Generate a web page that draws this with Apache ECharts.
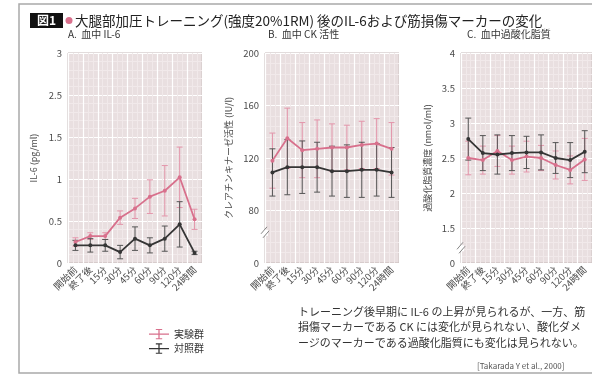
<!DOCTYPE html>
<html>
<head>
<meta charset="utf-8">
<script src="https://cdn.jsdelivr.net/npm/echarts@6/dist/echarts.min.js"></script>
<style>
html,body{margin:0;padding:0;background:#fff;}
#chart{width:592px;height:380px;}
</style>
</head>
<body>
<div id="chart"></div>
<script>
// Time points after the training bout
const categories = ['開始前', '終了後', '15分', '30分', '45分', '60分', '90分', '120分', '24時間'];

// A. IL-6 (pg/ml)
const il6Exp = [0.25, 0.32, 0.32, 0.54, 0.65, 0.79, 0.86, 1.02, 0.52];
const il6ExpErr = [0.05, 0.04, 0.04, 0.08, 0.12, 0.20, 0.30, 0.36, 0.12];
const il6Ctl = [0.21, 0.21, 0.21, 0.13, 0.29, 0.21, 0.29, 0.46, 0.12];
const il6CtlErr = [0.06, 0.08, 0.07, 0.08, 0.14, 0.09, 0.15, 0.27, 0.02];
const il6TickLabels = ['0', '0.5', '1', '1.5', '2.5', '3'];

// B. CK activity (IU/l); the bottom of the axis is a broken "0"
const ckExp = [118, 135, 126, 127, 128, 128, 130, 131, 127];
const ckExpErr = [21, 23, 21, 22, 18, 17, 18, 19, 20];
const ckCtl = [109, 113, 113, 113, 110, 110, 111, 111, 109];
const ckCtlErr = [18, 21, 20, 19, 19, 20, 21, 20, 19];
const ckTickLabels = ['0', '80', '120', '160', '200'];

// C. Lipid peroxide (nmol/ml); the bottom of the axis is a broken "0"
const lpExp = [2.50, 2.47, 2.60, 2.47, 2.52, 2.50, 2.40, 2.33, 2.48];
const lpExpErr = [0.24, 0.20, 0.22, 0.20, 0.22, 0.18, 0.20, 0.20, 0.30];
const lpCtl = [2.77, 2.57, 2.55, 2.57, 2.58, 2.58, 2.50, 2.47, 2.59];
const lpCtlErr = [0.30, 0.25, 0.28, 0.25, 0.23, 0.25, 0.22, 0.25, 0.30];
const lpTickLabels = ['0', '1.5', '2', '2.5', '3', '3.5', '4'];

const groupNames = ['実験群', '対照群'];

const FONT = '"Noto Sans CJK JP", "Noto Sans", sans-serif';
const RED = '#d8708c';
const RED_ERR = '#e395aa';
const BLACK = '#353535';
const BLACK_ERR = '#555555';

const panels = [
  { left: 68, name: 'IL-6 (pg/ml)', nameGap: 30, min: 0, max: 2.5, interval: 0.5, ticks: il6TickLabels,
    exp: il6Exp, expErr: il6ExpErr, ctl: il6Ctl, ctlErr: il6CtlErr },
  { left: 265, name: 'クレアチンキナーゼ活性 (IU/l)', nameGap: 32, min: 40, max: 200, interval: 40, ticks: ckTickLabels,
    exp: ckExp, expErr: ckExpErr, ctl: ckCtl, ctlErr: ckCtlErr, breakAt: 63 },
  { left: 461, name: '過酸化脂質濃度 (nmol/ml)', nameGap: 29, min: 1, max: 4, interval: 0.5, ticks: lpTickLabels,
    exp: lpExp, expErr: lpExpErr, ctl: lpCtl, ctlErr: lpCtlErr, breakAt: 1.21 }
];

const TOP = 53, HEIGHT = 210, WIDTH = 134;

function errorBars(color) {
  return function (params, api) {
    const x = api.value(0), v = api.value(1), e = api.value(2);
    const hi = api.coord([x, v + e]);
    const lo = api.coord([x, v - e]);
    const w = 3;
    const st = { stroke: color, lineWidth: 1 };
    return {
      type: 'group',
      children: [
        { type: 'line', shape: { x1: hi[0], y1: hi[1], x2: lo[0], y2: lo[1] }, style: st },
        { type: 'line', shape: { x1: hi[0] - w, y1: hi[1], x2: hi[0] + w, y2: hi[1] }, style: st },
        { type: 'line', shape: { x1: lo[0] - w, y1: lo[1], x2: lo[0] + w, y2: lo[1] }, style: st }
      ]
    };
  };
}

const grid = [], xAxis = [], yAxis = [], series = [];
panels.forEach((p, i) => {
  grid.push({
    left: p.left, top: TOP, width: WIDTH, height: HEIGHT,
    show: true, backgroundColor: '#e9dfe0', borderColor: '#c4b8b9', borderWidth: 1
  });
  // category axis carrying the data
  xAxis.push({
    type: 'category', gridIndex: i, data: categories, boundaryGap: true,
    axisLine: { show: false }, axisTick: { show: false }, splitLine: { show: false },
    axisLabel: { rotate: 45, fontSize: 9.5, color: '#4a4a4a', fontFamily: FONT, margin: 5, interval: 0 }
  });
  // paper-style vertical ruling
  xAxis.push({
    type: 'value', gridIndex: i, min: 0, max: 9, interval: 1, position: 'top',
    axisLabel: { show: false }, axisLine: { show: false }, axisTick: { show: false },
    splitLine: { show: true, lineStyle: { color: '#ffffff', width: 1.2 } },
    minorTick: { show: false, splitNumber: 3 },
    minorSplitLine: { show: true, lineStyle: { color: '#f1e9ea', width: 1 } }
  });
  yAxis.push({
    type: 'value', gridIndex: i, min: p.min, max: p.max, interval: p.interval,
    name: p.name, nameLocation: 'middle', nameGap: p.nameGap,
    nameTextStyle: { fontSize: 9, color: '#4a4a4a', fontFamily: FONT },
    axisLine: { show: false }, axisTick: { show: false },
    axisLabel: {
      fontSize: 9.5, color: '#4a4a4a', fontFamily: FONT, margin: 6,
      formatter: (val) => p.ticks[Math.round((val - p.min) / p.interval)]
    },
    splitLine: { show: true, lineStyle: { color: '#ffffff', width: 1.2 } },
    minorTick: { show: false, splitNumber: 5 },
    minorSplitLine: { show: true, lineStyle: { color: '#f1e9ea', width: 1 } }
  });
  const xi = i * 2;
  const mk = (vals, errs) => vals.map((v, k) => [k, v, errs[k]]);
  series.push({
    name: groupNames[0], type: 'custom', xAxisIndex: xi, yAxisIndex: i,
    renderItem: errorBars(RED_ERR), data: mk(p.exp, p.expErr), encode: { x: 0, y: 1 }, z: 2
  });
  series.push({
    name: groupNames[1], type: 'custom', xAxisIndex: xi, yAxisIndex: i,
    renderItem: errorBars(BLACK_ERR), data: mk(p.ctl, p.ctlErr), encode: { x: 0, y: 1 }, z: 2
  });
  series.push({
    name: groupNames[0], type: 'line', xAxisIndex: xi, yAxisIndex: i, data: p.exp,
    color: RED, lineStyle: { color: RED, width: 1.8 }, symbol: 'circle', symbolSize: 4,
    itemStyle: { color: RED }, z: 3, animation: false
  });
  series.push({
    name: groupNames[1], type: 'line', xAxisIndex: xi, yAxisIndex: i, data: p.ctl,
    color: BLACK, lineStyle: { color: BLACK, width: 1.8 }, symbol: 'circle', symbolSize: 4,
    itemStyle: { color: BLACK }, z: 4, animation: false
  });
});

const legendIcon = 'path://M0,5h22v1.4H0z M10.3,0h1.4v11.4h-1.4z M7.5,0h7v1.2h-7z M7.5,10.2h7v1.2h-7z';

const option = {
  animation: false,
  backgroundColor: '#ffffff',
  textStyle: { fontFamily: FONT },
  grid, xAxis, yAxis, series,
  legend: {
    orient: 'vertical', left: 144, top: 324, itemGap: 4, itemWidth: 20, itemHeight: 11,
    data: [
      { name: groupNames[0], icon: legendIcon, itemStyle: { color: RED } },
      { name: groupNames[1], icon: legendIcon, itemStyle: { color: BLACK } }
    ],
    textStyle: { fontSize: 10, color: '#333', fontFamily: FONT },
    selectedMode: false
  },
  graphic: [
    // outer frame
    { type: 'rect', shape: { x: 19, y: 4, width: 610, height: 369 },
      style: { fill: 'none', stroke: '#a9a9a9', lineWidth: 1.5 }, silent: true, z: -1 },
    // figure number badge
    { type: 'rect', shape: { x: 30, y: 13, width: 33, height: 15 }, style: { fill: '#111' } },
    { type: 'text', x: 46.5, y: 20.5, style: { text: '図1', fill: '#fff', fontSize: 12, fontWeight: 'bold',
      fontFamily: FONT, align: 'center', verticalAlign: 'middle' } },
    { type: 'circle', shape: { cx: 69, cy: 20.5, r: 3.5 }, style: { fill: '#d9708c' } },
    { type: 'text', x: 75, y: 20.5, style: {
      text: '大腿部加圧トレーニング(強度20%1RM) 後のIL-6および筋損傷マーカーの変化',
      fill: '#222', fontSize: 13.5, fontFamily: FONT, verticalAlign: 'middle' } },
    // panel titles
    { type: 'text', x: 68, y: 34, style: { text: 'A.  血中 IL-6', fill: '#333', fontSize: 10, fontFamily: FONT, verticalAlign: 'middle' } },
    { type: 'text', x: 268, y: 34, style: { text: 'B.  血中 CK 活性', fill: '#333', fontSize: 10, fontFamily: FONT, verticalAlign: 'middle' } },
    { type: 'text', x: 467, y: 34, style: { text: 'C.  血中過酸化脂質', fill: '#333', fontSize: 10, fontFamily: FONT, verticalAlign: 'middle' } },
    // summary
    { type: 'text', x: 298, y: 304, style: {
      text: 'トレーニング後早期に IL-6 の上昇が見られるが、一方、筋\n損傷マーカーである CK には変化が見られない、酸化ダメ\nージのマーカーである過酸化脂質にも変化は見られない。',
      fill: '#333', fontSize: 11, lineHeight: 15.5, fontFamily: FONT } },
    { type: 'text', x: 477, y: 366, style: { text: '[Takarada Y et al., 2000]', fill: '#555', fontSize: 8,
      fontFamily: FONT, verticalAlign: 'middle' } }
  ]
};

const chart = echarts.init(document.getElementById('chart'), null, { renderer: 'canvas' });
chart.setOption(option);

// axis break marks on the broken axes
const breaks = [];
panels.forEach((p, i) => {
  if (p.breakAt === undefined) return;
  const y = chart.convertToPixel({ yAxisIndex: i }, p.breakAt);
  const x = p.left;
  breaks.push({ type: 'rect', shape: { x: x - 3, y: y - 3, width: 6, height: 6 }, style: { fill: '#fff' }, z: 10 });
  breaks.push({ type: 'line', shape: { x1: x - 4, y1: y + 1, x2: x + 2, y2: y - 6 }, style: { stroke: '#666', lineWidth: 0.8 }, z: 11 });
  breaks.push({ type: 'line', shape: { x1: x - 2, y1: y + 5, x2: x + 4, y2: y - 2 }, style: { stroke: '#666', lineWidth: 0.8 }, z: 11 });
});
chart.setOption({ graphic: option.graphic.concat(breaks) });
</script>
</body>
</html>
